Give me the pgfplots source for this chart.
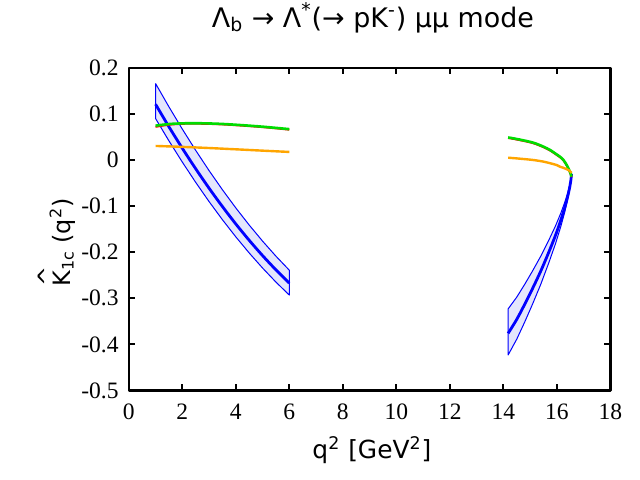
\documentclass[border=0pt]{standalone}
\usepackage{fontspec}
\setmainfont{Liberation Serif}
\newfontfamily\tmf{Liberation Serif}
\newfontfamily\dvf{DejaVu Sans}
\usepackage{pgfplots}
\pgfplotsset{compat=1.18}
\definecolor{bandfill}{RGB}{228,230,252}
\definecolor{mygreen}{RGB}{0,220,0}
\definecolor{myorange}{RGB}{255,165,0}
\begin{document}
\begin{tikzpicture}
\path[use as bounding box] (0,0) rectangle (320bp,240bp);
\begin{axis}[
  at={(64.4bp,44.75bp)}, anchor=south west,
  width=240.75bp, height=161.35bp, scale only axis,
  xmin=0, xmax=18, ymin=-0.5, ymax=0.2,
  xtick={0,2,4,6,8,10,12,14,16,18},
  xticklabels={0,2,4,6,8,10,12,14,16,18},
  ytick={-0.5,-0.4,-0.3,-0.2,-0.1,0,0.1,0.2},
  yticklabels={-0.5,-0.4,-0.3,-0.2,-0.1,0,0.1,0.2},
  tick label style={font=\tmf\fontsize{11.8}{13}\selectfont},
  yticklabel style={xshift=-1.6bp},
  xticklabel style={yshift=-3.4bp},
  axis line style={line width=1.2bp},
  major tick style={line width=1bp, black},
  major tick length=3.3bp, tick align=inside,
  title={\dvf\fontsize{13.5}{16}\selectfont Λ\textsubscript{b} → Λ\textsuperscript{*}(→ pK\textsuperscript{-}) μμ mode},
  title style={at={(axis description cs:0.507,1.0883)}, anchor=base},
  xlabel={\dvf\fontsize{12.5}{15}\selectfont q\textsuperscript{2} [GeV\textsuperscript{2}]},
  xlabel style={at={(axis description cs:0.505,-0.2101)}, anchor=base},
  ylabel={\dvf\fontsize{12}{15}\selectfont \makebox[0pt][l]{\hspace{0.02em}\raisebox{0.62em}{\fontsize{12}{14}\selectfont\char"005E}}K\textsubscript{1c} (q\textsuperscript{2})},
  ylabel style={at={(axis description cs:-0.1221,0.4586)}, anchor=base},
  line join=round,
]
% left band
\addplot[draw=blue, line width=0.5bp, fill=bandfill] coordinates {
(1,0.166)(1.5,0.1154)(2,0.0671)(2.5,0.0210)(3,-0.0229)(3.5,-0.0645)(4,-0.1039)(4.5,-0.1410)(5,-0.1759)(5.5,-0.2086)(6,-0.239)
(6,-0.293)(5.5,-0.2648)(5,-0.2343)(4.5,-0.2016)(4,-0.1667)(3.5,-0.1295)(3,-0.0901)(2.5,-0.0484)(2,-0.0045)(1.5,0.0416)(1,0.090)(1,0.166)};
\addplot[blue, line width=1.4bp, smooth] coordinates {
(1,0.121)(1.5,0.0721)(2,0.0255)(2.5,-0.0189)(3,-0.0611)(3.5,-0.101)(4,-0.1387)(4.5,-0.1741)(5,-0.2073)(5.5,-0.2383)(6,-0.267)};
% right band
\addplot[draw=blue, line width=0.5bp, fill=bandfill] coordinates {
(14.18,-0.323)(14.5,-0.2977)(14.8,-0.2697)(15.1,-0.240)(15.4,-0.2087)(15.7,-0.174)(15.95,-0.1432)(16.15,-0.1152)(16.3,-0.0913)(16.4,-0.0729)(16.47,-0.0576)(16.52,-0.0439)(16.55,-0.030)
(16.52,-0.0486)(16.47,-0.067)(16.4,-0.0875)(16.3,-0.1122)(16.15,-0.1443)(15.95,-0.1818)(15.7,-0.2231)(15.4,-0.2697)(15.1,-0.3117)(14.8,-0.3515)(14.5,-0.389)(14.18,-0.423)(14.18,-0.323)};
\addplot[blue, line width=1.4bp, smooth] coordinates {
(14.18,-0.376)(14.5,-0.346)(14.8,-0.313)(15.1,-0.278)(15.4,-0.241)(15.7,-0.200)(15.95,-0.1636)(16.15,-0.1306)(16.3,-0.1024)(16.4,-0.0806)(16.47,-0.0626)(16.52,-0.0464)(16.55,-0.030)};
% red
\addplot[red, line width=1bp, smooth] coordinates {
(1,0.072)(1.5,0.0765)(2,0.0785)(2.5,0.0788)(3,0.0783)(3.5,0.0772)(4,0.0755)(4.5,0.0735)(5,0.0713)(5.5,0.0687)(6,0.0658)};
\addplot[red, line width=1bp, smooth] coordinates {
(14.18,0.0478)(14.6,0.0433)(15.12,0.0364)(15.5,0.0278)(15.75,0.0205)(16.0,0.0108)(16.12,0.006)(16.25,-0.0012)(16.37,-0.012)(16.45,-0.0212)(16.52,-0.0312)(16.55,-0.0372)};
% green
\addplot[mygreen, line width=1.3bp, smooth] coordinates {
(1,0.0745)(1.5,0.078)(2,0.0795)(2.5,0.0798)(3,0.0793)(3.5,0.0782)(4,0.0765)(4.5,0.0745)(5,0.0723)(5.5,0.0697)(6,0.067)};
\addplot[mygreen, line width=1.3bp, smooth] coordinates {
(14.18,0.049)(14.6,0.0445)(15.12,0.0376)(15.5,0.029)(15.75,0.0217)(16.0,0.012)(16.12,0.0072)(16.25,0.0)(16.37,-0.0108)(16.45,-0.020)(16.52,-0.030)(16.55,-0.036)};
% orange
\addplot[myorange, line width=1.2bp, smooth] coordinates {
(1,0.0305)(2,0.0285)(3,0.026)(4,0.0232)(5,0.0203)(6,0.0175)};
\addplot[myorange, line width=1.2bp, smooth] coordinates {
(14.18,0.005)(14.6,0.003)(15.12,0.0)(15.5,-0.0035)(15.75,-0.007)(16.0,-0.011)(16.12,-0.0145)(16.25,-0.017)(16.37,-0.020)(16.47,-0.023)(16.55,-0.028)};
\end{axis}
\end{tikzpicture}
\end{document}
